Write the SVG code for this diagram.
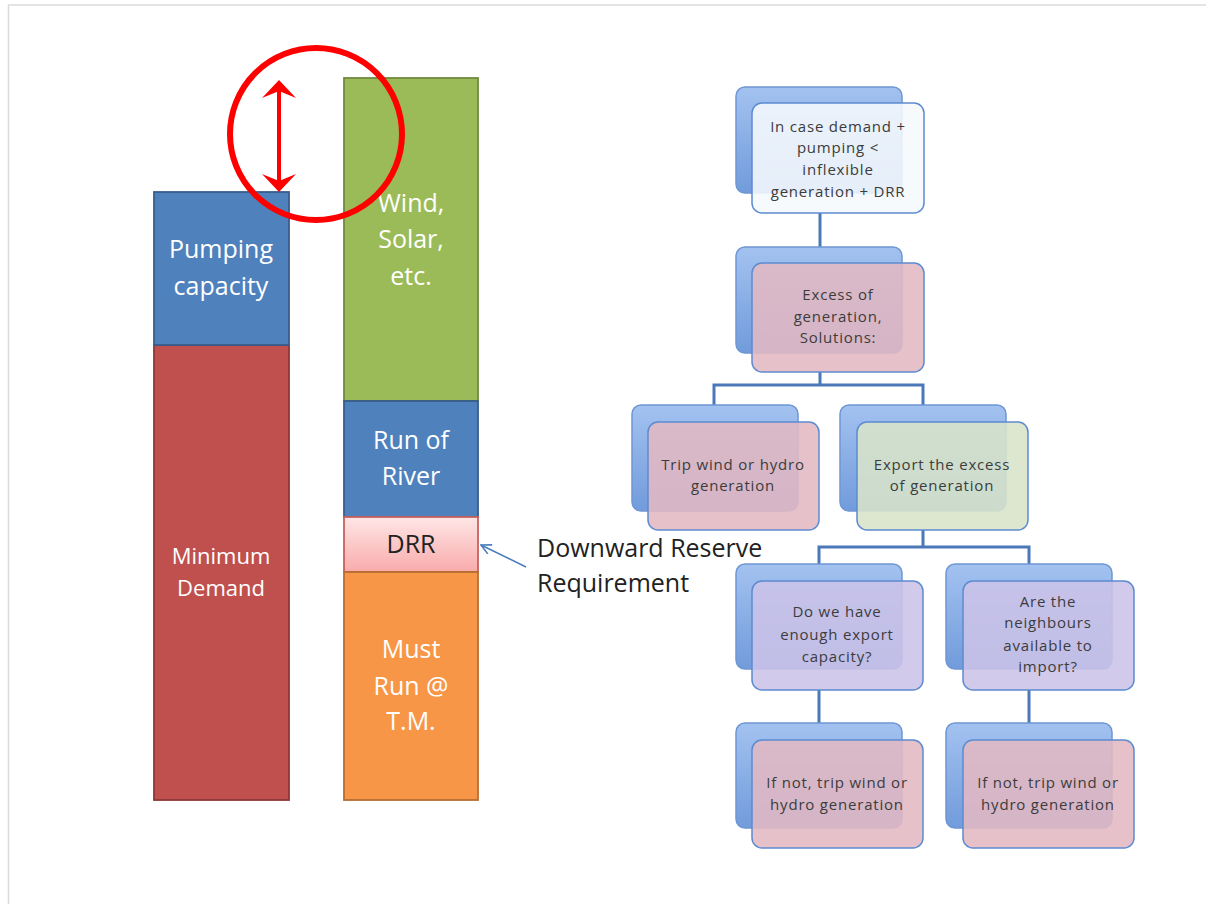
<svg xmlns="http://www.w3.org/2000/svg" width="1206" height="904" viewBox="0 0 1206 904">
<style>
.bar{stroke-width:1.8}
.bt{font-family:"Open Sans","Liberation Sans",sans-serif;font-size:25px;fill:#fff;text-anchor:middle}
.ft{font-family:"Open Sans","Liberation Sans",sans-serif;font-size:15px;fill:#3c3c3c;text-anchor:middle;letter-spacing:0.8px}
.back{fill:url(#gb);stroke:#6f97d3;stroke-width:1.5}
.front{stroke:#5d8bd0;stroke-width:1.5;fill-opacity:0.88}
.con{stroke:#4a78b8;stroke-width:3;fill:none}
</style>
<defs>
<linearGradient id="gb" x1="0" y1="0" x2="0" y2="1">
<stop offset="0" stop-color="#a3c2f0"/>
<stop offset="1" stop-color="#719bdb"/>
</linearGradient>
<linearGradient id="gdrr" x1="0" y1="0" x2="0" y2="1">
<stop offset="0" stop-color="#ffe6e6"/>
<stop offset="1" stop-color="#f9abab"/>
</linearGradient>
<marker id="open" viewBox="0 0 12 12" refX="11" refY="6" markerWidth="12" markerHeight="12" markerUnits="userSpaceOnUse" orient="auto">
<path d="M1,1 L11,6 L1,11" fill="none" stroke="#4a7ebb" stroke-width="1.6"/>
</marker>
</defs>
<rect width="1206" height="904" fill="#fff"/>
<rect x="8.5" y="5" width="1210" height="910" fill="none" stroke="#dcdcdc" stroke-width="1.5"/>

<g id="bar-left">
<rect class="bar" x="154" y="345" width="135" height="455" fill="#c0504d" stroke="#8c3836"/>
<rect class="bar" x="154" y="192" width="135" height="153" fill="#4f81bd" stroke="#385d8a"/>
<text class="bt" x="221" y="258">Pumping</text>
<text class="bt" x="221" y="295">capacity</text>
<text class="bt" x="221" y="564" style="font-size:22px">Minimum</text>
<text class="bt" x="221" y="596" style="font-size:22px">Demand</text>
</g>

<g id="bar-right">
<rect class="bar" x="344" y="78" width="134" height="323" fill="#9bbb59" stroke="#71893f"/>
<rect class="bar" x="344" y="401" width="134" height="116" fill="#4f81bd" stroke="#385d8a"/>
<rect class="bar" x="344" y="517" width="134" height="55" fill="url(#gdrr)" stroke="#c9605d"/>
<rect class="bar" x="344" y="572" width="134" height="228" fill="#f79646" stroke="#b66d31"/>
<text class="bt" x="411" y="212">Wind,</text>
<text class="bt" x="411" y="248">Solar,</text>
<text class="bt" x="411" y="285">etc.</text>
<text class="bt" x="411" y="449">Run of</text>
<text class="bt" x="411" y="485">River</text>
<text class="bt" x="411" y="553" style="fill:#222">DRR</text>
<text class="bt" x="411" y="658">Must</text>
<text class="bt" x="411" y="695">Run @</text>
<text class="bt" x="411" y="730">T.M.</text>
</g>

<g id="highlight">
<circle cx="316" cy="134" r="86" fill="none" stroke="#ff0000" stroke-width="6"/>
<line x1="279" y1="88" x2="279" y2="184" stroke="#ff0000" stroke-width="4"/>
<polygon points="279,80 296,98 279,91 262,98" fill="#ff0000"/>
<polygon points="279,192 296,174 279,181 262,174" fill="#ff0000"/>
</g>

<g id="drr-label">
<line x1="526" y1="567" x2="481" y2="545" stroke="#4a7ebb" stroke-width="1.6" marker-end="url(#open)"/>
<text x="537" y="557" style="font-family:'Open Sans','Liberation Sans',sans-serif;font-size:25px;fill:#222">Downward Reserve</text>
<text x="537" y="592" style="font-family:'Open Sans','Liberation Sans',sans-serif;font-size:25px;fill:#222">Requirement</text>
</g>

<g id="connectors">
<path class="con" d="M820,213 V263"/>
<path class="con" d="M820,372 V385 M714,422 V385 H923 V422"/>
<path class="con" d="M923,530 V547 M819,581 V547 H1029 V581"/>
<path class="con" d="M819,690 V740"/>
<path class="con" d="M1029,690 V740"/>
</g>

<g id="n1">
<rect class="back" x="736" y="87" width="166" height="106" rx="9"/>
<rect class="front" x="752" y="103" width="172" height="110" rx="10" fill="#f6f9fd"/>
<text class="ft" x="838" y="132">In case demand +</text>
<text class="ft" x="838" y="153">pumping &lt;</text>
<text class="ft" x="838" y="175">inflexible</text>
<text class="ft" x="838" y="197">generation + DRR</text>
</g>

<g id="n2">
<rect class="back" x="736" y="247" width="166" height="106" rx="9"/>
<rect class="front" x="752" y="263" width="172" height="109" rx="10" fill="#e3b8c3"/>
<text class="ft" x="838" y="300">Excess of</text>
<text class="ft" x="838" y="322">generation,</text>
<text class="ft" x="838" y="343">Solutions:</text>
</g>

<g id="n3">
<rect class="back" x="632" y="405" width="166" height="106" rx="9"/>
<rect class="front" x="648" y="422" width="171" height="108" rx="10" fill="#e3b8c3"/>
<text class="ft" x="733" y="470">Trip wind or hydro</text>
<text class="ft" x="733" y="491">generation</text>
</g>

<g id="n4">
<rect class="back" x="840" y="405" width="166" height="106" rx="9"/>
<rect class="front" x="857" y="422" width="171" height="108" rx="10" fill="#d8e4c9"/>
<text class="ft" x="942" y="470">Export the excess</text>
<text class="ft" x="942" y="491">of generation</text>
</g>

<g id="n5">
<rect class="back" x="736" y="564" width="166" height="105" rx="9"/>
<rect class="front" x="752" y="581" width="171" height="109" rx="10" fill="#ccc3e8"/>
<text class="ft" x="837" y="617">Do we have</text>
<text class="ft" x="837" y="640">enough export</text>
<text class="ft" x="837" y="662">capacity?</text>
</g>

<g id="n6">
<rect class="back" x="946" y="564" width="166" height="105" rx="9"/>
<rect class="front" x="963" y="581" width="171" height="109" rx="10" fill="#ccc3e8"/>
<text class="ft" x="1048" y="607">Are the</text>
<text class="ft" x="1048" y="628">neighbours</text>
<text class="ft" x="1048" y="651">available to</text>
<text class="ft" x="1048" y="672">import?</text>
</g>

<g id="n7">
<rect class="back" x="736" y="723" width="166" height="105" rx="9"/>
<rect class="front" x="752" y="740" width="171" height="108" rx="10" fill="#e3b8c3"/>
<text class="ft" x="837" y="788">If not, trip wind or</text>
<text class="ft" x="837" y="810">hydro generation</text>
</g>

<g id="n8">
<rect class="back" x="946" y="723" width="166" height="105" rx="9"/>
<rect class="front" x="963" y="740" width="171" height="108" rx="10" fill="#e3b8c3"/>
<text class="ft" x="1048" y="788">If not, trip wind or</text>
<text class="ft" x="1048" y="810">hydro generation</text>
</g>
</svg>
